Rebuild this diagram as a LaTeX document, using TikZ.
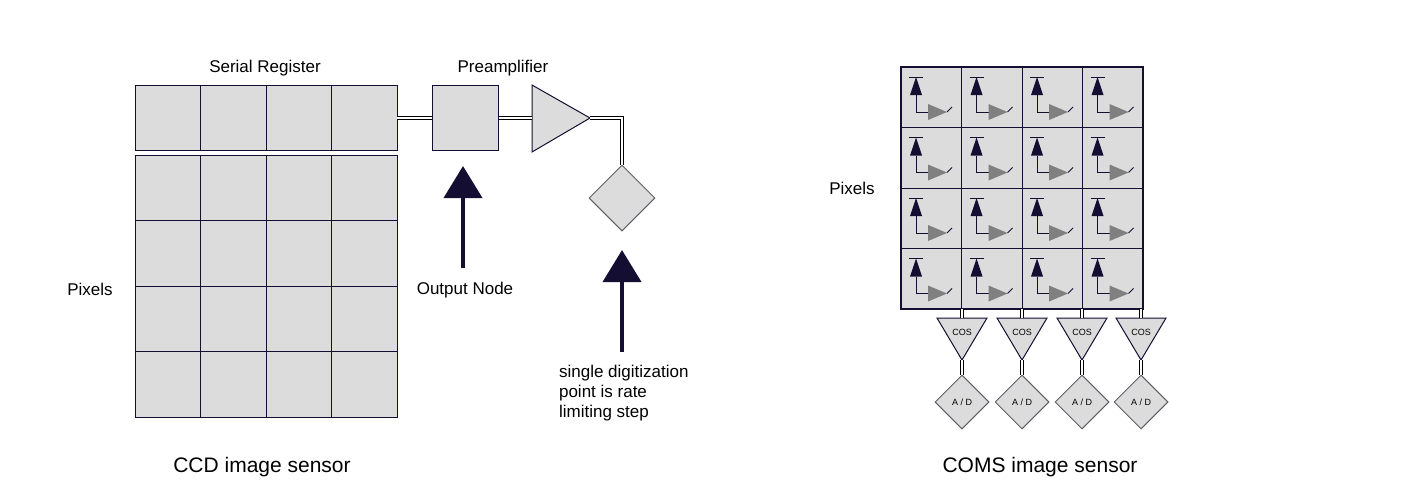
\documentclass[tikz,border=0pt]{standalone}
\usepackage{fontspec}
\setmainfont{Liberation Sans}
\usetikzlibrary{shapes.geometric, arrows.meta}
\definecolor{cellGray}{RGB}{220,220,220}
\definecolor{darkInk}{RGB}{20,15,50}
\tikzset{
  cellBox/.style = {draw=darkInk, fill=cellGray, line width=0.5pt},
  ampTri/.style = {draw=darkInk, fill=cellGray, line width=0.5pt},
  adcBox/.style = {shape=diamond, draw=gray!70!darkInk, fill=cellGray, line width=0.5pt,
    inner sep=0pt, minimum size=33pt, font=\fontsize{4.5}{5}\selectfont},
  wireDouble/.style = {draw=black, line width=0.7pt, double=white, double distance=1pt},
  bigArrow/.style = {draw=darkInk, line width=2pt, -{Triangle[length=16pt,width=19pt]}},
  labelText/.style = {font=\fontsize{8.5}{10}\selectfont},
  titleText/.style = {font=\fontsize{10.5}{12}\selectfont}
}
\begin{document}
\begin{tikzpicture}[x=0.5pt, y=-0.5pt]
  \useasboundingbox (0,0) rectangle (1402,500);

  % CCD sensor
  \foreach \i in {0,...,3}
    \draw [cellBox] ({135+65.5*\i},85) rectangle ++(65.5,65);
  \foreach \i in {0,...,3}
    \foreach \j in {0,...,3}
      \draw [cellBox] ({135+65.5*\i},{155+65.5*\j}) rectangle ++(65.5,65.5);
  \coordinate (SREG) at (397,118);
  \node (ONODE) [cellBox, minimum width=33pt, minimum height=32.5pt, inner sep=0pt] at (465,118) {};
  \draw [ampTri] (532,85) -- (590,118) -- (532,152) -- cycle;
  \coordinate (AMPIN) at (532,118);
  \coordinate (AMPOUT) at (590,118);
  \coordinate (BEND) at (622,118);
  \node (ADC) [adcBox] at (622,198) {};

  \draw [wireDouble] (SREG) -- (ONODE.west);
  \draw [wireDouble] (ONODE.east) -- (AMPIN);
  \draw [wireDouble] (AMPOUT) -- (BEND) -- (ADC.north);

  \coordinate (ONARROW) at (463,268);
  \coordinate (ADCARROW) at (622,352);
  \draw [bigArrow] (ONARROW) -- (463,166);
  \draw [bigArrow] (ADCARROW) -- (622,250);

  \node [labelText] at (265,68) {Serial Register};
  \node [labelText] at (503,68) {Preamplifier};
  \node [labelText] at (90,289) {Pixels};
  \node [labelText] at (465,290) {Output Node};
  \node [labelText, anchor=north west, align=left] at (552,358)
    {single digitization\\point is rate\\limiting step};
  \node [titleText] at (262,467) {CCD image sensor};

  % CMOS sensor
  \foreach \i in {0,...,3}
    \foreach \j in {0,...,3} {
      \begin{scope}[shift={({901+60.5*\i},{67+60.5*\j})}]
        \draw [cellBox] (0,0) rectangle (60.5,60.5);
        \draw [darkInk, line width=0.5pt] (8,10) -- (22,10);
        \fill [darkInk] (15,10) -- (21,28) -- (9,28) -- cycle;
        \draw [darkInk, line width=0.5pt] (15,28) -- (15,45) -- (27,45);
        \fill [gray] (27,37) -- (46,45) -- (27,53) -- cycle;
        \draw [darkInk, line width=0.4pt] (46,45) -- (51,40);
      \end{scope}
    }
  \draw [darkInk, line width=1pt] (901,67) rectangle (1143,309);
  \node [labelText] at (852,188) {Pixels};
  \foreach \x [count=\n] in {962,1022,1082,1141} {
    \coordinate (COL\n) at (\x,309);
    \draw [ampTri] ({\x-25},318) -- ({\x+25},318) -- (\x,360) -- cycle;
    \node [font=\fontsize{4.5}{5}\selectfont] (COS\n) at (\x,332) {COS};
    \coordinate (COSIN\n) at (\x,318);
    \coordinate (COSOUT\n) at (\x,360);
    \node (AD\n) [adcBox, minimum size=27pt] at (\x,402) {A / D};
    \draw [wireDouble] (COL\n) -- (COSIN\n);
    \draw [wireDouble] (COSOUT\n) -- (AD\n.north);
  }
  \node [titleText] at (1040,467) {COMS image sensor};
\end{tikzpicture}
\end{document}
